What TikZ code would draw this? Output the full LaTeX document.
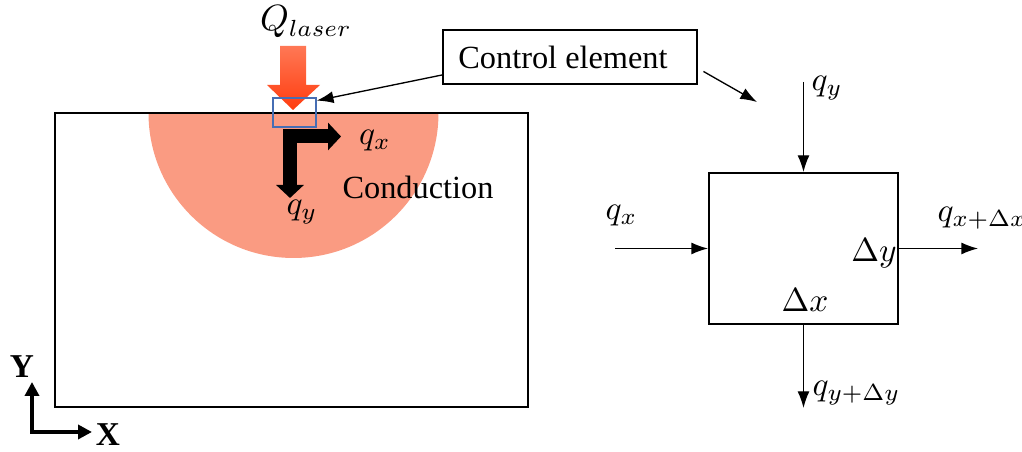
\documentclass[tikz,border=0pt]{standalone}
\usepackage{amsmath}
\usepackage{fontspec}
\setmainfont{Liberation Serif}
\usetikzlibrary{arrows.meta}

\definecolor{heatzone}{RGB}{250,155,130}
\definecolor{lasertop}{RGB}{255,120,85}
\definecolor{laserbot}{RGB}{255,60,15}
\definecolor{cvblue}{RGB}{70,110,180}

\tikzset{
  thin arrow/.style={-{Latex[length=5pt,width=3.6pt]}, line width=0.4pt},
  flux/.style={font=\fontsize{10}{12}\selectfont},
  axis arrow/.style={line width=1.2pt, -{Triangle[length=4.2pt,width=4.2pt]}},
  axis label/.style={font=\fontsize{10}{12}\selectfont\bfseries},
}

\begin{document}
\begin{tikzpicture}[x=0.3pt, y=-0.3pt, font=\fontsize{9.7}{11}\selectfont]
        \useasboundingbox (0,0) rectangle (1022,452);

        % heated zone under the laser
        \fill[heatzone] (148.5,113) arc[start angle=180, end angle=0, radius=145] -- cycle;

        \node[draw, line width=0.6pt, minimum width=141.9pt, minimum height=88.2pt, inner sep=0pt] (plate) at (291.5,260) {};

        % laser arrow
        \shade[top color=lasertop, bottom color=laserbot]
            (280,46) -- (306,46) -- (306,85) -- (320,85) -- (293,110) -- (267,85) -- (280,85) -- cycle;
        \node[flux, font=\fontsize{10.5}{12}\selectfont] (qlaser) at (306,22) {$Q_{laser}$};

        \node[draw=cvblue, line width=0.5pt, minimum width=12.9pt, minimum height=8.7pt, inner sep=0pt] (cv) at (294.5,112.5) {};

        % conduction arrows
        \coordinate (qyend) at (290,198);
        \coordinate (corner) at (290,136.5);
        \coordinate (qxend) at (341,136.5);
        \draw[line width=4.2pt, line join=miter, {Triangle[length=3.9pt,width=8.1pt]}-{Triangle[length=3.9pt,width=8.1pt]}]
            (qyend) -- (corner) -- (qxend);
        \node[flux] (qxl) at (375,141) {$q_x$};
        \node[flux] (qyl) at (302,212) {$q_y$};
        \node (cond) at (418,187) {Conduction};

        \node[draw, line width=0.6pt, minimum width=76pt, minimum height=16pt, inner sep=0pt] (ctrl) at (570,57) {\kern-4.2pt Control element};
        \draw[thin arrow] (ctrl.188) -- (cv.28);
        \coordinate (zoomtip) at (757,102);
        \draw[thin arrow, shorten <=2pt] (ctrl.-5) -- (zoomtip);

        % control element balance
        \node[draw, line width=0.6pt, minimum width=56.7pt, minimum height=45.3pt, inner sep=0pt] (elem) at (803.5,248.5) {};
        \node[flux] (dy) at (874,253) {$\Delta y$};
        \node[flux] (dx) at (805,300) {$\Delta x$};

        \coordinate (qyin) at (803.5,82);
        \coordinate (qxin) at (615,248.5);
        \coordinate (qxout) at (978,248.5);
        \coordinate (qyout) at (803.5,408);
        \draw[thin arrow] (qyin) -- (elem.north);
        \draw[thin arrow] (qxin) -- (elem.west);
        \draw[thin arrow] (elem.east) -- (qxout);
        \draw[thin arrow] (elem.south) -- (qyout);

        \node[flux, anchor=west, inner sep=0pt] (qyinl) at (811,88) {$q_y$};
        \node[flux, anchor=west, inner sep=0pt] (qxinl) at (605,216) {$q_x$};
        \node[flux, anchor=west, inner sep=0pt] (qxoutl) at (937,218) {$q_{x+\Delta x}$};
        \node[flux, anchor=west, inner sep=0pt] (qyoutl) at (812,393) {$q_{y+\Delta y}$};

        % axes
        \coordinate (o) at (32,432);
        \coordinate (ytip) at (32,382);
        \coordinate (xtip) at (92,432);
        \draw[axis arrow] ([yshift=-0.6pt]o) -- (ytip);
        \draw[axis arrow] ([xshift=-0.6pt]o) -- (xtip);
        \node[axis label] (ylab) at (22,367) {Y};
        \node[axis label] (xlab) at (108,435) {X};
\end{tikzpicture}
\end{document}
